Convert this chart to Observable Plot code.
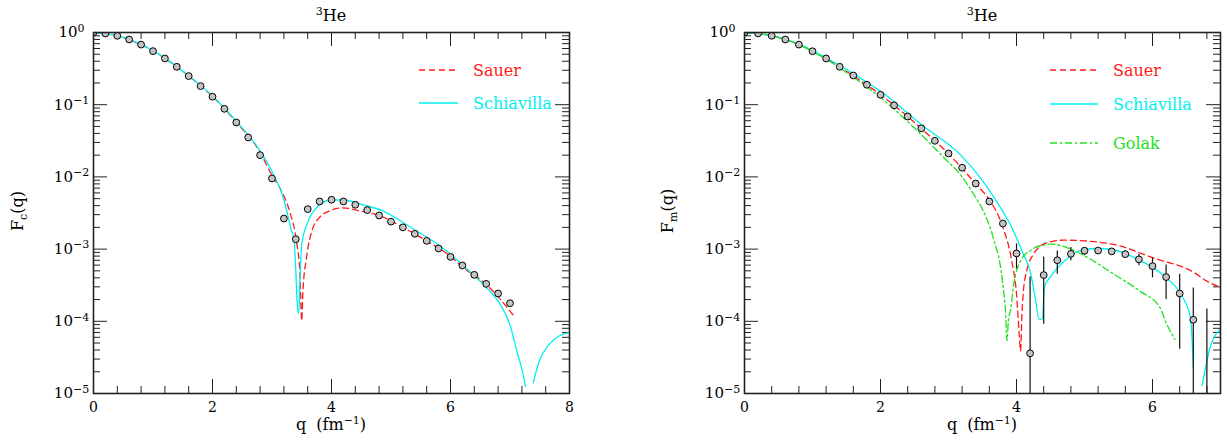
<!DOCTYPE html>
<html><head><meta charset="utf-8">
<script src="https://cdn.jsdelivr.net/npm/d3@7"></script>
<script src="https://cdn.jsdelivr.net/npm/@observablehq/plot@0.6"></script>
<style>
body{margin:0;background:#fff;}
#wrap{position:relative;width:1227px;height:440px;background:#fff;}
.panel{position:absolute;top:0;}
</style></head><body>
<div id="wrap"><div id="p1" class="panel" style="left:0"></div><div id="p2" class="panel" style="left:613px"></div></div>
<script>
// ---------- tick values ----------
const yMajorTicks = [1e-5, 1e-4, 1e-3, 1e-2, 1e-1, 1];
const xMajorLeft = [0, 2, 4, 6, 8];
const xMajorRight = [0, 2, 4, 6];

// ---------- left panel: charge form factor Fc ----------
const fcDataQ = [0,0.2,0.4,0.6,0.8,1.0,1.2,1.4,1.6,1.8,2.0,2.2,2.4,2.6,2.8,3.0,3.2,3.4,3.6,3.8,4.0,4.2,4.4,4.6,4.8,5.0,5.2,5.4,5.6,5.8,6.0,6.2,6.4,6.6,6.8,7.0];
const fcDataV = [1.0,0.968,0.90,0.80,0.68,0.552,0.437,0.335,0.249,0.181,0.129,0.0877,0.0567,0.0352,0.020,0.0095,0.00265,0.00137,0.00358,0.00457,0.00482,0.00457,0.00411,0.00347,0.00292,0.0024,0.0020,0.00163,0.0013,0.00102,0.00078,0.000593,0.00044,0.00033,0.000243,0.000178];

const fcSauerQ = [0,0.4,0.8,1.2,1.6,2.0,2.4,2.8,3.0,3.13,3.30,3.41,3.47,3.50,3.52,3.58,3.69,3.80,3.97,4.19,4.47,4.8,5.2,5.6,6.0,6.21,6.49,6.71,7.05];
const fcSauerV = [1,0.90,0.68,0.44,0.25,0.130,0.0575,0.0219,0.0105,0.00708,0.00324,0.0013,0.000447,0.000102,0.000263,0.000759,0.002,0.00275,0.00339,0.00372,0.00339,0.00292,0.002,0.0013,0.000794,0.000556,0.000385,0.000263,0.000123];

const fcSchiavillaQ = [0,0.4,0.8,1.2,1.6,2.0,2.4,2.8,3.02,3.19,3.33,3.37,3.40,3.42,3.44,3.45,3.47,3.50,3.61,3.78,4.0,4.2,4.5,4.86,5.37,5.93,6.2,6.4,6.6,6.8,7.0,7.13,7.22,7.26,7.32,7.39,7.49,7.66,7.83,8.0];
const fcSchiavillaV = [1,0.902,0.684,0.442,0.251,0.132,0.0589,0.0229,0.011,0.00519,0.00178,0.00138,0.0005,0.0002,0.000129,0.000129,0.0004,0.00117,0.00245,0.00398,0.00479,0.00479,0.00417,0.00339,0.00191,0.00095,0.000603,0.000427,0.000295,0.00019,0.000089,0.000035,0.0000186,0.0000126,null,0.0000141,0.000028,0.000048,0.000063,0.00007];

// ---------- right panel: magnetic form factor Fm ----------
const fmDataQ = [0,0.2,0.4,0.6,0.8,1.0,1.2,1.4,1.6,1.8,2.0,2.2,2.4,2.6,2.8,3.0,3.2,3.4,3.6,3.8,4.0,4.2,4.4,4.6,4.8,5.0,5.2,5.4,5.6,5.8,6.0,6.2,6.4,6.6,6.8];
const fmDataV = [1.0,0.97,0.90,0.80,0.68,0.55,0.437,0.335,0.254,0.189,0.137,0.098,0.0687,0.047,0.0316,0.0211,0.0134,0.0081,0.00457,0.00226,0.00087,0.000036,0.000437,0.00070,0.00086,0.00095,0.000955,0.00093,0.00085,0.00072,0.00058,0.00041,0.000243,0.000105,0.000004];
const fmErrQ  = [4.0,4.2,4.4,4.6,4.8,5.0,5.2,5.4,5.6,5.8,6.0,6.2,6.4,6.6,6.8];
const fmErrHi = [1.18e-3,4.1e-4,7.8e-4,9.4e-4,1.05e-3,1.05e-3,9.9e-4,1.0e-3,9.5e-4,8.5e-4,7.5e-4,6.0e-4,4.5e-4,2.9e-4,1.48e-4];
const fmErrLo = [5.3e-4,1e-7,9.1e-5,4.5e-4,6.9e-4,8.1e-4,9.1e-4,8.3e-4,7.6e-4,5.9e-4,4.0e-4,2.0e-4,4.1e-5,1e-7,1e-7];

const fmSauerQ = [0,0.4,0.8,1.2,1.6,2.0,2.4,2.8,3.0,3.2,3.4,3.61,3.8,3.93,4.0,4.04,4.06,4.08,4.10,4.15,4.25,4.35,4.5,4.69,5.0,5.5,6.0,6.6,6.8,7.0];
const fmSauerV = [1,0.90,0.683,0.437,0.251,0.138,0.0684,0.0316,0.0209,0.0132,0.00794,0.00468,0.002,0.00069,0.00024,0.000066,0.000039,0.000126,0.00025,0.0005,0.00085,0.0011,0.00126,0.00133,0.0013,0.00112,0.00076,0.00048,0.00036,0.000295];

const fmSchiavillaQ = [0,0.4,0.8,1.2,1.6,2.07,2.6,3.17,3.5,3.7,3.9,4.1,4.2,4.28,4.33,4.38,4.41,4.51,4.71,4.93,5.18,5.42,5.67,5.92,6.17,6.41,6.56,6.6,6.66,6.73,6.85,7.0];
const fmSchiavillaV = [1,0.904,0.692,0.447,0.269,0.137,0.053,0.0205,0.0089,0.00468,0.00226,0.00086,0.0005,0.0002,0.000107,0.000107,0.000295,0.000427,0.00069,0.00095,0.00102,0.00098,0.00081,0.00062,0.000427,0.00024,0.000112,0.000023,null,0.0000129,0.000044,0.000078];

const fmGolakQ = [0,0.4,0.8,1.2,1.6,2.0,2.44,2.93,3.2,3.37,3.5,3.66,3.79,3.84,3.86,3.88,3.91,3.96,4.06,4.2,4.4,4.54,4.74,5.03,5.43,5.82,6.11,6.21,6.33];
const fmGolakV = [1,0.898,0.676,0.427,0.24,0.126,0.0537,0.0186,0.01,0.00575,0.00355,0.00141,0.00038,0.000126,0.000054,0.0001,0.00014,0.000327,0.00069,0.00095,0.00114,0.00117,0.00105,0.00078,0.00045,0.00026,0.000155,0.000091,0.000056];

// ---------- styles ----------
const RED = "#ff1a1a", CYAN = "#00f0f0", GREEN = "#22e022";
const series = {
  Sauer: {color: RED, dash: "6,4"},
  Schiavilla: {color: CYAN, dash: null},
  Golak: {color: GREEN, dash: "7,3,2,3"}
};

const zip = (qs, vs) => qs.map((q, i) => ({q, v: vs[i]}));
const FONT = "DejaVu Serif";
const H = 440, MT = 32, MB = 47;

function panel(el, o) {
  const innerW = o.width - o.ml - o.mr, innerH = H - MT - MB;
  const xMinor = d3.range(0, Math.round(o.xMax / 0.4) + 1).map(i => +(i * 0.4).toFixed(1));
  const yMinor = [];
  for (let e = -5; e < 0; e++) for (let k = 2; k <= 9; k++) yMinor.push(k * Math.pow(10, e));
  const TS = "#222";
  const marks = [
    Plot.tickX(o.xMajor, {x: d => d, insetTop: innerH - 14, stroke: TS}),
    Plot.tickX(o.xMajor, {x: d => d, insetBottom: innerH - 14, stroke: TS}),
    Plot.tickX(xMinor, {x: d => d, insetTop: innerH - 7, stroke: TS}),
    Plot.tickX(xMinor, {x: d => d, insetBottom: innerH - 7, stroke: TS}),
    Plot.tickY(yMajorTicks, {y: d => d, insetRight: innerW - 14, stroke: TS}),
    Plot.tickY(yMajorTicks, {y: d => d, insetLeft: innerW - 14, stroke: TS}),
    Plot.tickY(yMinor, {y: d => d, insetRight: innerW - 7, stroke: TS}),
    Plot.tickY(yMinor, {y: d => d, insetLeft: innerW - 7, stroke: TS}),
    ...o.curves.map(c => Plot.line(c.data, {x: "q", y: "v", stroke: series[c.name].color, strokeWidth: 1.3,
      strokeDasharray: series[c.name].dash, curve: "monotone-x", clip: true})),
    o.errs ? Plot.ruleX(o.errs, {x: "q", y1: "lo", y2: "hi", stroke: "#111", strokeWidth: 1.2, clip: true}) : null,
    Plot.dot(o.points, {x: "q", y: "v", r: 3.4, stroke: "#000", strokeWidth: 1, fill: "#c4c4c4", clip: true}),
    Plot.frame({stroke: "#222", strokeWidth: 1.6}),
    Plot.axisX(o.xMajor, {tickSize: 0, tickPadding: 9, label: null, fontSize: 14}),
    Plot.axisY(yMajorTicks, {tickSize: 0, tickPadding: 22, textAnchor: "middle", label: null, fontSize: 15,
      tickFormat: d => "10^" + Math.round(Math.log10(d))})
  ];
  const chart = Plot.plot({
    width: o.width, height: H, marginLeft: o.ml, marginRight: o.mr, marginTop: MT, marginBottom: MB,
    x: {domain: [0, o.xMax]},
    y: {type: "log", domain: [1e-5, 1]},
    style: {fontFamily: FONT, background: "white", color: "black", overflow: "visible"},
    marks
  });
  el.appendChild(chart);
  const svg = d3.select(chart);
  // superscript exponents on y tick labels
  svg.selectAll('g[aria-label="y-axis tick label"] text').each(function () {
    const parts = this.textContent.split("^");
    if (parts.length < 2) return;
    const s = d3.select(this);
    s.text(null);
    s.append("tspan").text(parts[0]);
    s.append("tspan").attr("dy", "-0.5em").attr("font-size", "11px").text(parts[1].replace("-", "\u2212"));
  });
  const fx0 = o.ml, fx1 = o.width - o.mr, cx = (fx0 + fx1) / 2;
  const g = svg.append("g").attr("font-family", FONT).attr("fill", "black");
  // title
  const tt = g.append("text").attr("x", cx).attr("y", 21).attr("text-anchor", "middle").attr("font-size", 16);
  tt.append("tspan").attr("font-size", 11).attr("dy", -6).text("3");
  tt.append("tspan").attr("dy", 6).text("He");
  // x label
  const xl = g.append("text").attr("x", cx).attr("y", 430).attr("text-anchor", "middle").attr("font-size", 16);
  xl.append("tspan").text("q\u00a0\u00a0(fm");
  xl.append("tspan").attr("dy", -6).attr("font-size", 11).text("\u22121");
  xl.append("tspan").attr("dy", 6).text(")");
  // y label
  const yl = g.append("text").attr("transform", `translate(${o.ylx},211) rotate(-90)`).attr("text-anchor", "middle").attr("font-size", 16);
  yl.append("tspan").text("F");
  yl.append("tspan").attr("dy", 4).attr("font-size", 11).text(o.sub);
  yl.append("tspan").attr("dy", -4).text("(q)");
  // legend
  o.curves.forEach((c, i) => {
    const y = o.legY[i];
    g.append("line").attr("x1", fx1 - o.legX1).attr("x2", fx1 - o.legX2).attr("y1", y).attr("y2", y)
      .attr("stroke", series[c.name].color).attr("stroke-width", 1.3)
      .attr("stroke-dasharray", series[c.name].dash);
    g.append("text").attr("x", fx1 - o.legT).attr("y", y).attr("dy", "0.36em").attr("font-size", 16)
      .attr("text-anchor", "start")
      .attr("fill", series[c.name].color).text(c.name);
  });
}

panel(document.getElementById("p1"), {
  width: 613, ml: 93, mr: 44, xMax: 8, xMajor: xMajorLeft, sub: "c", ylx: 23,
  points: zip(fcDataQ, fcDataV),
  curves: [
    {name: "Sauer", data: zip(fcSauerQ, fcSauerV)},
    {name: "Schiavilla", data: zip(fcSchiavillaQ, fcSchiavillaV)}
  ],
  legY: [70, 103], legX1: 150, legX2: 111, legT: 96
});

panel(document.getElementById("p2"), {
  width: 614, ml: 131, mr: 7, xMax: 7, xMajor: xMajorRight, sub: "m", ylx: 60,
  points: zip(fmDataQ, fmDataV),
  errs: fmErrQ.map((q, i) => ({q, lo: fmErrLo[i], hi: fmErrHi[i]})),
  curves: [
    {name: "Sauer", data: zip(fmSauerQ, fmSauerV)},
    {name: "Schiavilla", data: zip(fmSchiavillaQ, fmSchiavillaV)},
    {name: "Golak", data: zip(fmGolakQ, fmGolakV)}
  ],
  legY: [70, 104, 143], legX1: 170, legX2: 122, legT: 107
});
</script>
</body></html>
